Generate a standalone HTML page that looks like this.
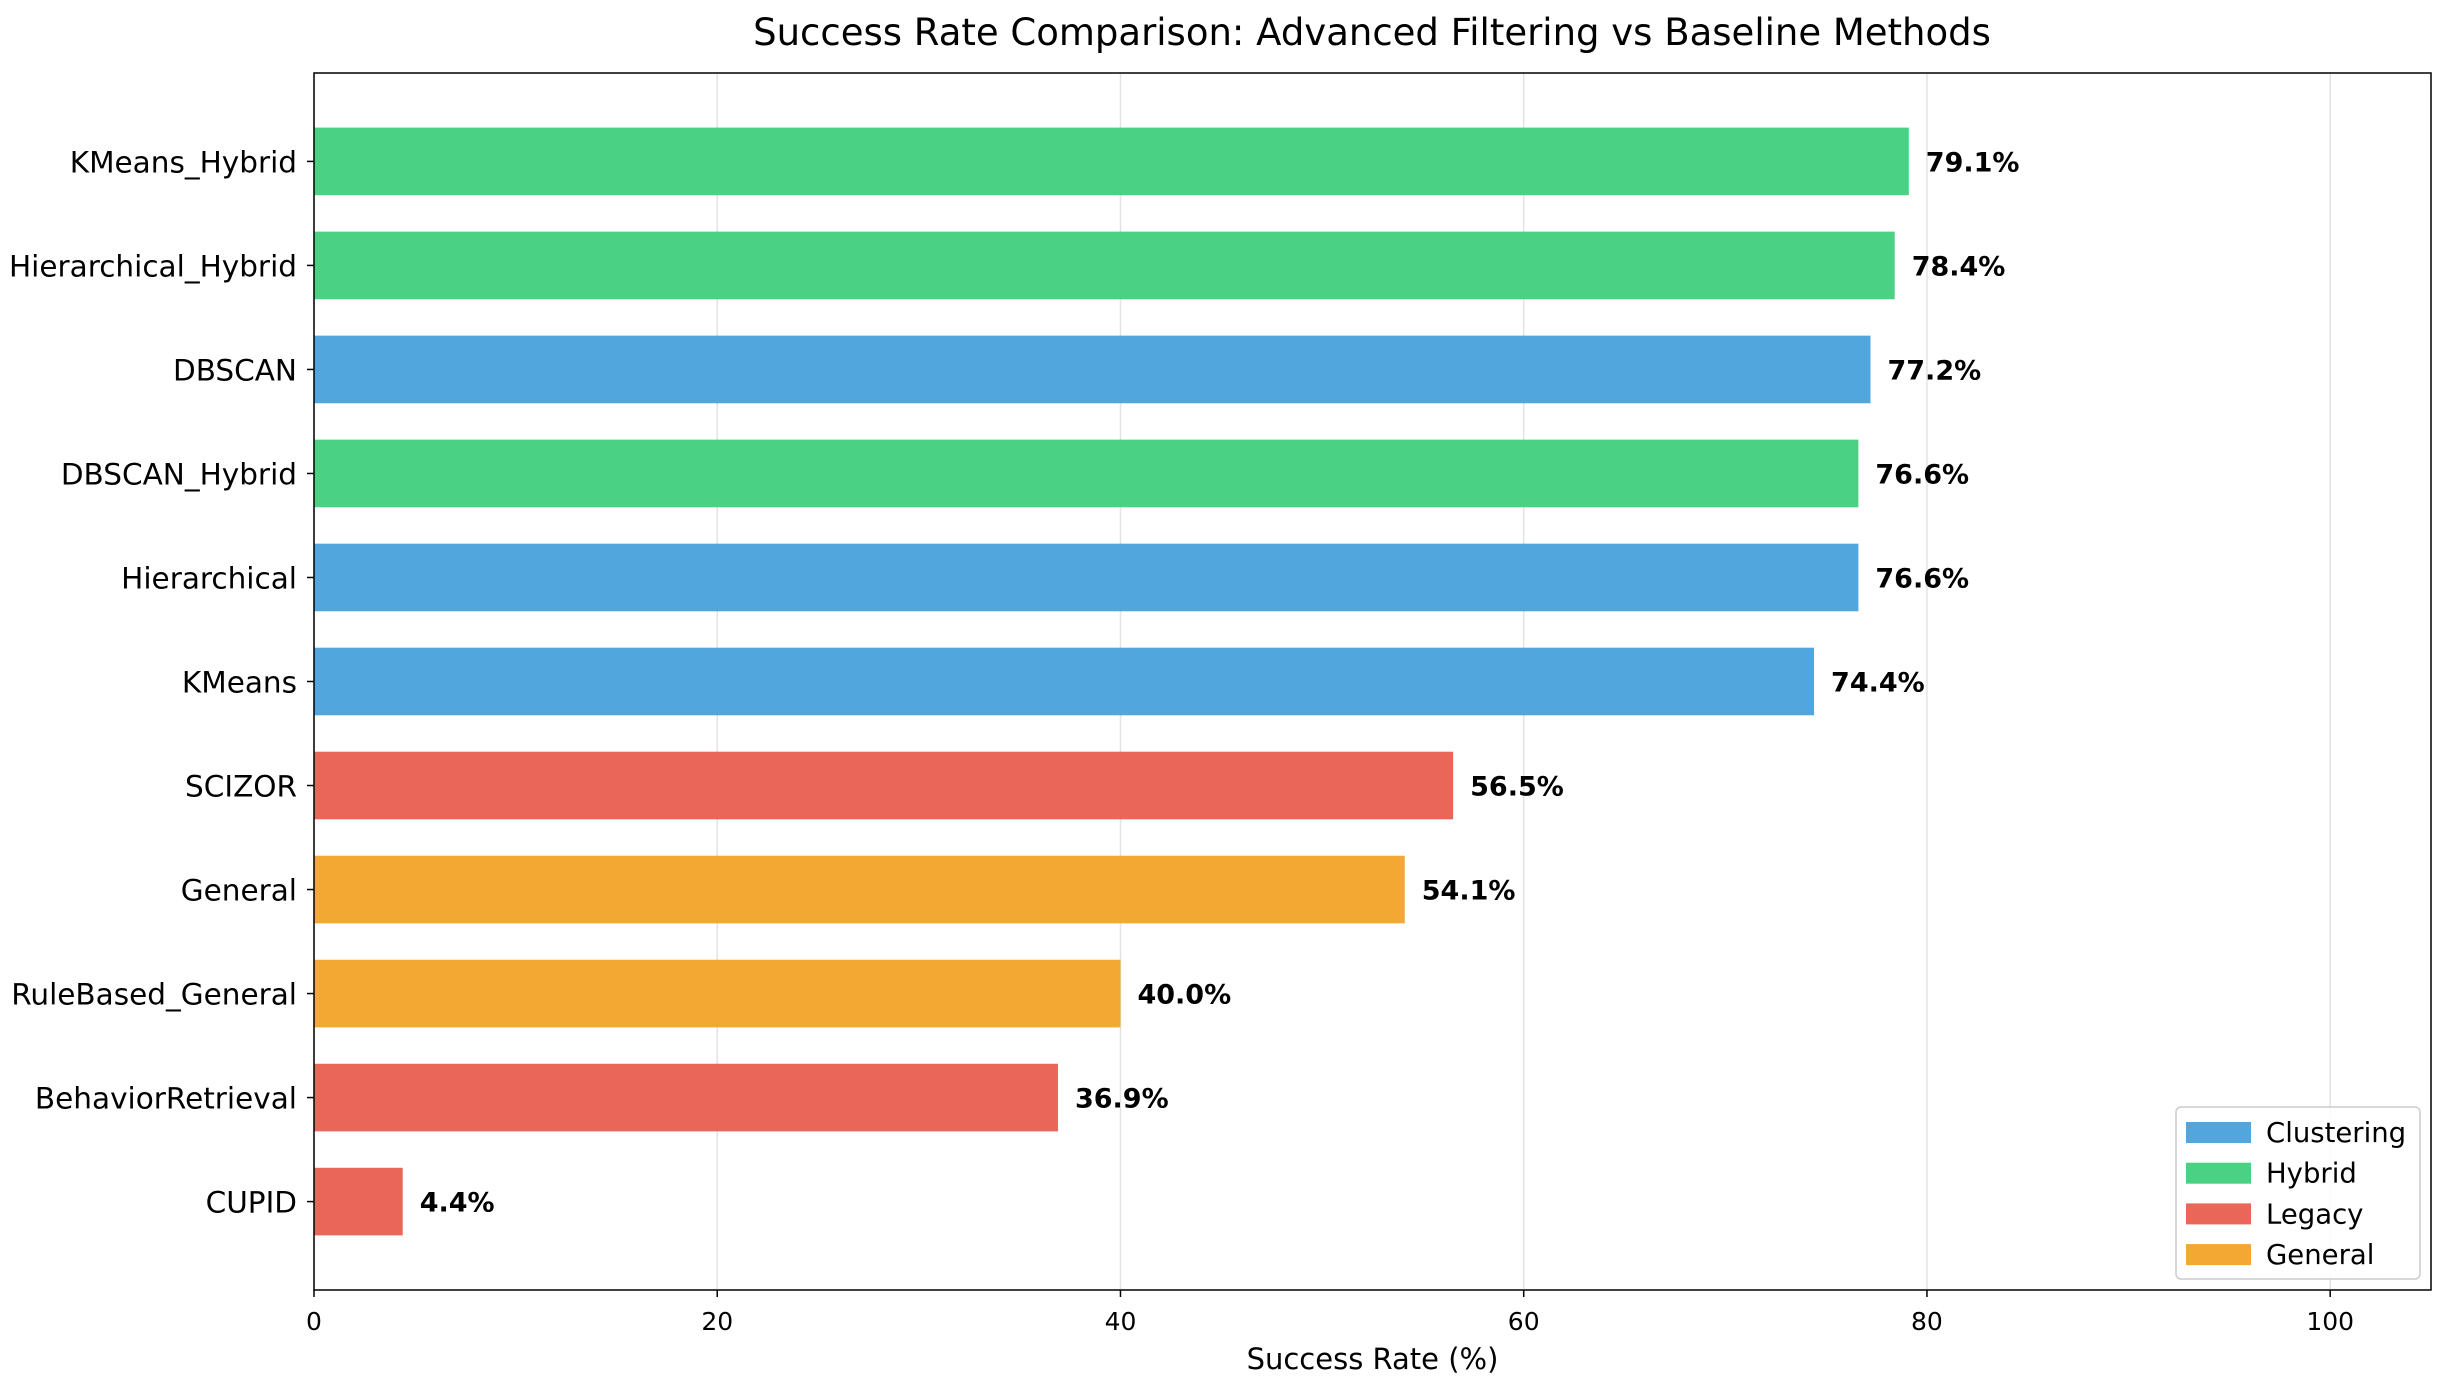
<!DOCTYPE html>
<html><head><meta charset="utf-8"><style>
body{margin:0;background:#fff;}
svg text{font-family:"DejaVu Sans","Liberation Sans",sans-serif;}
</style></head><body>
<svg id="chart" width="2439" height="1384" xmlns="http://www.w3.org/2000/svg">
<rect width="2439" height="1384" fill="#fff"/>
<text x="1372" y="45" font-size="37" text-anchor="middle" fill="#000">Success Rate Comparison: Advanced Filtering vs Baseline Methods</text>
<g id="grid"></g><g id="bars"></g><g id="labels"></g><g id="axes"></g>
<g id="legend"></g>
</svg>
<script>
const categories=["KMeans_Hybrid","Hierarchical_Hybrid","DBSCAN","DBSCAN_Hybrid","Hierarchical","KMeans","SCIZOR","General","RuleBased_General","BehaviorRetrieval","CUPID"];
const values=[79.1,78.4,77.2,76.6,76.6,74.4,56.5,54.1,40.0,36.9,4.4];
const groups=["Hybrid","Hybrid","Clustering","Hybrid","Clustering","Clustering","Legacy","General","General","Legacy","Legacy"];
const xTicks=[0,20,40,60,80,100];
const legendNames=["Clustering","Hybrid","Legacy","General"];
const colors={Clustering:"#52a6de",Hybrid:"#4ad183",Legacy:"#ea6659",General:"#f3a834"};
const L=314,R=2431,T=73,B=1290,XMAX=105;
const NS="http://www.w3.org/2000/svg";
const sx=v=>L+v/XMAX*(R-L);
const step=(B-T)/(categories.length-1+1.7);
const sy=i=>T+(i+0.85)*step;
function mk(tag,attrs,parent,txt){const e=document.createElementNS(NS,tag);for(const k in attrs)e.setAttribute(k,attrs[k]);if(txt!==undefined)e.textContent=txt;document.getElementById(parent).appendChild(e);return e;}
xTicks.forEach(t=>{
 const g=mk("line",{x1:sx(t),x2:sx(t),y1:T,y2:B,stroke:"#e3e3e3","stroke-width":1.5},"grid");
 
 
 const tk=mk("line",{x1:sx(t),x2:sx(t),y1:B,y2:B+7,stroke:"#000","stroke-width":1.5},"axes");
 
 
 const tl=mk("text",{x:sx(t),y:B+40,"font-size":25,"text-anchor":"middle"},"axes",String(t));
 
 
});
const bh=step*0.65;
categories.forEach((c,i)=>{
 const r=mk("rect",{x:sx(0),y:sy(i)-bh/2,width:sx(values[i])-sx(0),height:bh,fill:colors[groups[i]]},"bars");
 
 
 const v=mk("text",{x:sx(values[i])+17,y:sy(i)+10,"font-size":27,"font-weight":"bold"},"labels",values[i].toFixed(1)+"%");
 
 
 const tk=mk("line",{x1:L-7,x2:L,y1:sy(i),y2:sy(i),stroke:"#000","stroke-width":1.5},"axes");
 
 
 const tl=mk("text",{x:L-17,y:sy(i)+11,"font-size":29.5,"text-anchor":"end"},"axes",c);
 
 
});
const frame=mk("rect",{x:L,y:T,width:R-L,height:B-T,fill:"none",stroke:"#000","stroke-width":1.5},"axes");


const xl=mk("text",{x:(L+R)/2,y:1369,"font-size":29,"text-anchor":"middle"},"axes","Success Rate (%)");


const lb=mk("rect",{x:2176,y:1107,width:244,height:172,rx:5,fill:"#fff","fill-opacity":0.85,stroke:"#ccc","stroke-width":1.5},"legend");


legendNames.forEach((n,j)=>{
 const y=1132+j*40.7;
 const p=mk("rect",{x:2186,y:y-10,width:65,height:21,fill:colors[n]},"legend");
 
 
 const t=mk("text",{x:2266,y:y+10,"font-size":27.5},"legend",n);
 
 
});
</script>
</body></html>
